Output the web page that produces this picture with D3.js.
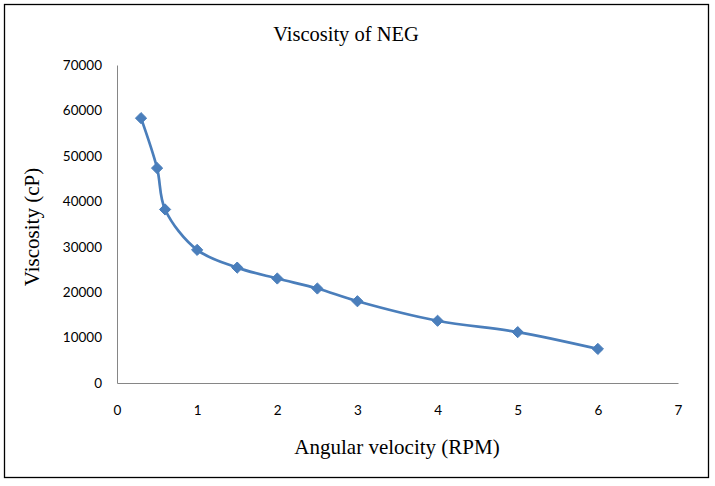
<!DOCTYPE html>
<html>
<head>
<meta charset="utf-8">
<script src="https://cdn.jsdelivr.net/npm/d3@7"></script>
<style>
html,body{margin:0;padding:0;background:#fff;}
svg{display:block;}
</style>
</head>
<body>
<svg id="chart" width="715" height="486"></svg>
<script>
const rpm = [0.3, 0.5, 0.6, 1, 1.5, 2, 2.5, 3, 4, 5, 6];
const viscosity = [58300, 47300, 38200, 29300, 25400, 23000, 20800, 18000, 13700, 11200, 7500];
const xTicks = [0, 1, 2, 3, 4, 5, 6, 7];
const yTicks = [0, 10000, 20000, 30000, 40000, 50000, 60000, 70000];
const title = "Viscosity of NEG";
const xTitle = "Angular velocity (RPM)";
const yTitle = "Viscosity (cP)";

const svg = d3.select("#chart");
const color = "#4A7EBB";

svg.append("rect").attr("x", 4.5).attr("y", 4.5).attr("width", 704).attr("height", 473)
  .attr("fill", "#fff").attr("stroke", "#000").attr("stroke-width", 1.3);

const x = d3.scaleLinear().domain([0, 7]).range([117, 678]);
const y = d3.scaleLinear().domain([0, 70000]).range([383, 65]);

// axes
const xAxis = svg.append("g").attr("transform", "translate(0,383)")
  .call(d3.axisBottom(x).tickValues(xTicks).tickSize(0).tickPadding(22).tickFormat(d3.format("d")));
const yAxis = svg.append("g").attr("transform", "translate(117,0)")
  .call(d3.axisLeft(y).tickValues(yTicks).tickSize(0).tickPadding(15).tickFormat(d3.format("d")));
[xAxis, yAxis].forEach(a => {
  a.select(".domain").attr("stroke", "#868686").attr("stroke-width", 1);
  a.selectAll("text").attr("font-family", "Lato, 'Open Sans', sans-serif").attr("font-size", 13.5).attr("fill", "#000");
});

// line
const data = rpm.map((r, i) => ({r, v: viscosity[i]}));
const line = d3.line().x(d => x(d.r)).y(d => y(d.v)).curve(d3.curveCatmullRom.alpha(0.5));
svg.append("path").datum(data).attr("d", line).attr("fill", "none")
  .attr("stroke", color).attr("stroke-width", 2.7);

// markers
svg.selectAll(".pt").data(data).enter().append("path").attr("class", "pt")
  .attr("transform", d => `translate(${x(d.r)},${y(d.v)})`)
  .attr("d", d3.symbol().type(d3.symbolDiamond2).size(80))
  .attr("fill", color).attr("stroke", color).attr("stroke-width", 1);

// titles
svg.append("text").attr("x", 346).attr("y", 41).attr("text-anchor", "middle")
  .attr("font-family", "'Liberation Serif', 'Times New Roman', serif").attr("font-size", 20.5)
  .text(title);
svg.append("text").attr("x", 397).attr("y", 454).attr("text-anchor", "middle")
  .attr("font-family", "'Liberation Serif', 'Times New Roman', serif").attr("font-size", 21)
  .text(xTitle);
svg.append("text").attr("transform", "translate(39,227) rotate(-90)").attr("text-anchor", "middle")
  .attr("font-family", "'Liberation Serif', 'Times New Roman', serif").attr("font-size", 21)
  .text(yTitle);
</script>
</body>
</html>
